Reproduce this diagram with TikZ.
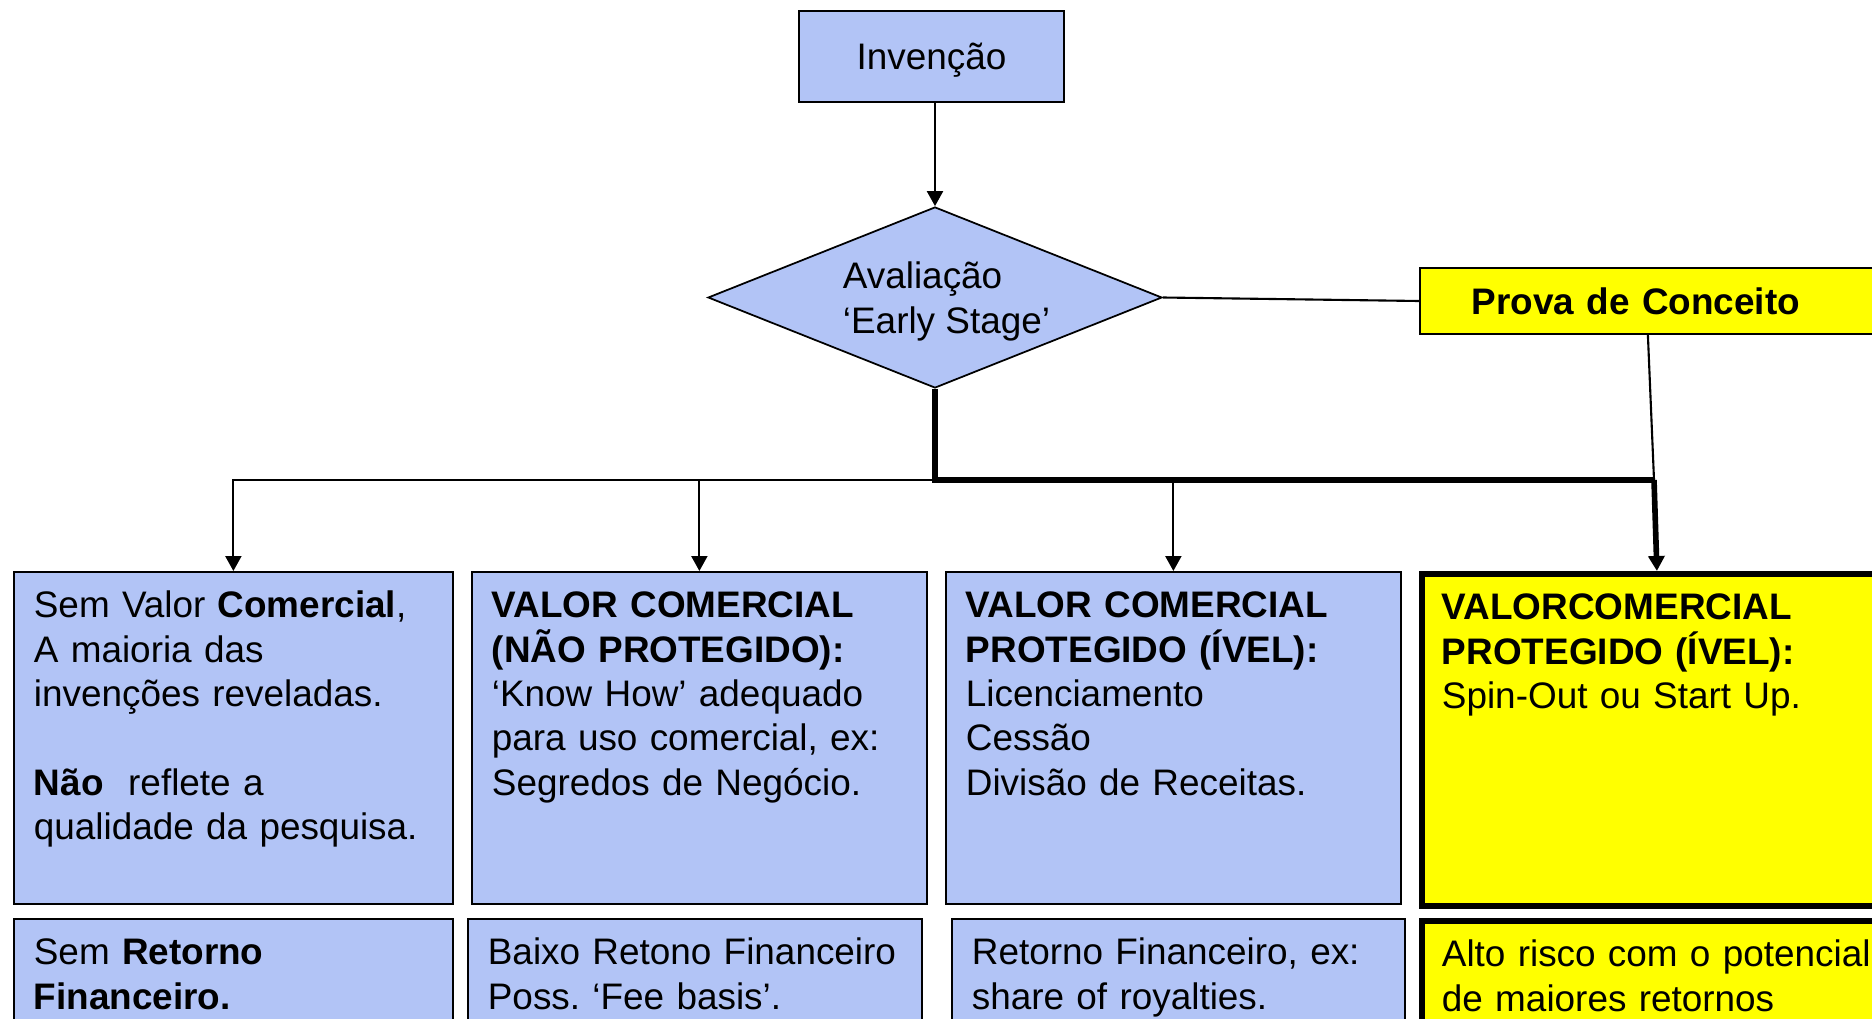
\documentclass[tikz,border=0pt]{standalone}
\usepackage{fontspec}
\setmainfont{Liberation Sans}
\frenchspacing
\definecolor{GridBlue}{RGB}{178,196,246}
\definecolor{ProofYellow}{RGB}{255,255,0}
\usetikzlibrary{shapes.geometric,arrows.meta,positioning,calc}

\begin{document}
\begin{tikzpicture}[
    every node/.style={font=\fontsize{21pt}{25.2pt}\selectfont},
    top/.style={draw,fill=GridBlue,line width=1pt,minimum width=5.3cm,minimum height=1.82cm,
                text depth=0pt},
    dec/.style={diamond,aspect=2.5,draw,fill=GridBlue,line width=1pt,minimum width=9.08cm,
                minimum height=3.62cm,inner sep=0pt,align=left,text depth=0pt},
    proof/.style={draw,fill=ProofYellow,line width=1pt,anchor=west,minimum height=1.32cm,
                  text width=7.04cm,inner xsep=1.04cm,align=left,
                  font=\fontsize{21pt}{25.2pt}\selectfont\bfseries},
    card/.style={draw,line width=1pt,anchor=north west,align=left,
                 inner xsep=0.4cm,inner ysep=0.2cm,text height=0.72cm},
    val/.style={card,fill=GridBlue,text depth=5.52cm},
    ret/.style={card,fill=GridBlue,text depth=1.88cm},
    hot/.style={card,fill=ProofYellow,line width=3.3pt},
    link/.style={line width=1.2pt},
    trunk/.style={line width=3.2pt},
    arr/.style={-{Triangle[width=0.32cm,length=0.3cm]},line width=1.2pt}]
    \fill[white] (0,0) rectangle (37.44,-20.38);
    \useasboundingbox (0,0) rectangle (37.44,-20.38);
    \clip (0,0) rectangle (37.44,-20.38);

    \node[top] (inv) at (18.63,-1.13) {Invenção};
    \node[dec] (dia) at (18.70,-5.95)
        {\hspace*{0.46cm}Avaliação\\\hspace*{0.46cm}‘Early Stage’};
    \node[proof] (proof) at (28.38,-6.02) {Prova de Conceito};

    % valor comercial
    \node[val,text width=7.98cm] (v1) at (0.26,-11.42)
        {Sem Valor \textbf{Comercial},\\A maioria das\\invenções reveladas.\\[25.2pt]
         \textbf{Não}\ \ reflete a\\qualidade da pesquisa.};
    \node[val,text width=8.30cm] (v2) at (9.42,-11.42)
        {\textbf{VALOR COMERCIAL}\\\textbf{(NÃO PROTEGIDO):}\\‘Know How’ adequado\\
         para uso comercial, ex:\\Segredos de Negócio.};
    \node[val,text width=8.30cm] (v3) at (18.90,-11.42)
        {\textbf{VALOR COMERCIAL}\\\textbf{PROTEGIDO (ÍVEL):}\\Licenciamento\\Cessão\\
         Divisão de Receitas.};
    \node[hot,text width=8.60cm,text depth=5.52cm] (v4) at (28.38,-11.42)
        {\textbf{VALORCOMERCIAL}\\\textbf{PROTEGIDO (ÍVEL):}\\Spin-Out ou Start Up.};

    % retorno
    \node[ret,text width=7.98cm] (r1) at (0.26,-18.36)
        {Sem \textbf{Retorno}\\\textbf{Financeiro.}};
    \node[ret,text width=8.28cm] (r2) at (9.34,-18.36)
        {Baixo Retono Financeiro\\Poss. ‘Fee basis’.};
    \node[ret,text width=8.26cm] (r3) at (19.02,-18.36)
        {Retorno Financeiro, ex:\\share of royalties.};
    \node[hot,text width=8.60cm,text depth=1.88cm] (r4) at (28.38,-18.36)
        {Alto risco com o potencial\\de maiores retornos};

    \coordinate (split) at (18.70,-9.60);
    \coordinate (corner) at (33.08,-9.60);

    \draw[arr] (inv.south -| dia.north) -- (dia.north);
    \draw[link] (dia.east) -- (proof.west);
    \draw[link] (proof.south) -- (corner);
    \draw[trunk] (dia.south) -- (split) -- (corner);
    \draw[arr,trunk] (corner) -- (v4.north);
    \draw[arr] (split) -| (v1.north);
    \draw[arr] (v2.north |- split) -- (v2.north);
    \draw[arr] (v3.north |- split) -- (v3.north);
\end{tikzpicture}
\end{document}
